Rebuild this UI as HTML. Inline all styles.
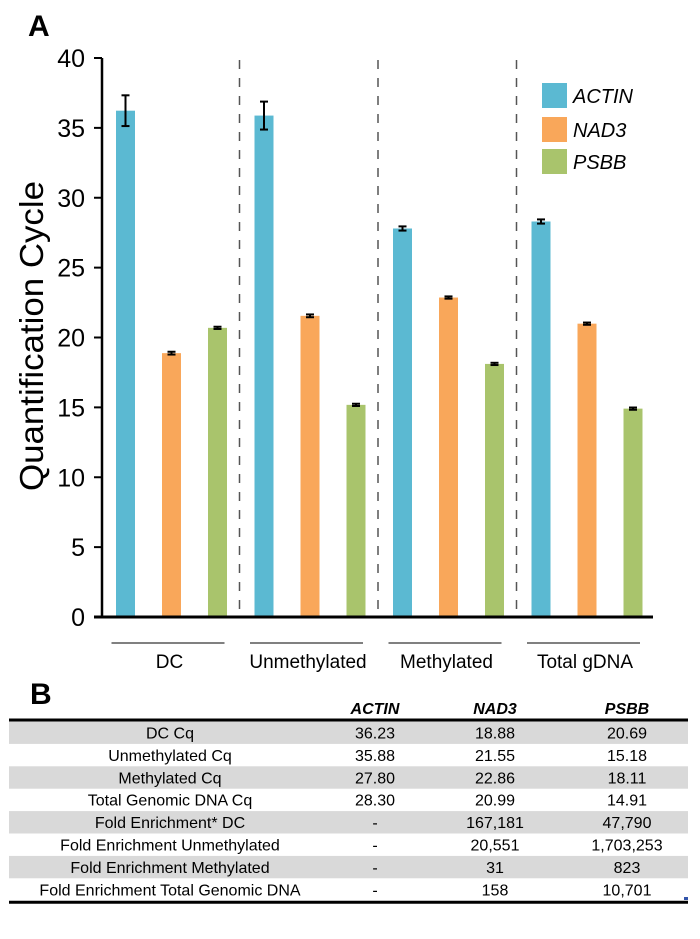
<!DOCTYPE html>
<html><head><meta charset="utf-8"><style>
body{margin:0;background:#fff;width:700px;height:934px;overflow:hidden;font-family:"Liberation Sans",sans-serif}
</style></head><body>
<svg width="700" height="934" xmlns="http://www.w3.org/2000/svg" font-family="Liberation Sans, sans-serif">
<text x="28" y="36" font-size="30" font-weight="bold">A</text>
<g id="chart"></g>
<text x="30" y="704" font-size="30" font-weight="bold">B</text>
<g id="table"></g>
</svg>
<script>
const categories=["DC","Unmethylated","Methylated","Total gDNA"];
const seriesNames=["ACTIN","NAD3","PSBB"];
const actin=[36.23,35.88,27.80,28.30];
const nad3=[18.88,21.55,22.86,20.99];
const psbb=[20.69,15.18,18.11,14.91];
const actinErr=[1.1,1.0,0.15,0.15];
const nad3Err=[0.1,0.1,0.08,0.08];
const psbbErr=[0.08,0.08,0.08,0.08];
const yTicks=[0,5,10,15,20,25,30,35,40];
const colors=["#5bb9d2","#f9a75a","#a9c46c"];
const NS="http://www.w3.org/2000/svg";
const g=document.getElementById('chart');
function mk(tag,attrs,parent){const e=document.createElementNS(NS,tag);for(const k in attrs)e.setAttribute(k,attrs[k]);(parent||g).appendChild(e);return e;}
const y0=617,yTop=58,yMax=40;
function yS(v){return y0-(v/yMax)*(y0-yTop);}
const x0=102,band=138.5;
function xC(i){return x0+band*i+69.5;}
const offs=[-46,0,46],bw=19;
const series=[actin,nad3,psbb],errs=[actinErr,nad3Err,psbbErr];
for(let i=1;i<categories.length;i++){
 const l=mk('line',{x1:x0+band*i-1,x2:x0+band*i-1,y1:60,y2:615,stroke:'#555','stroke-width':1.5,'stroke-dasharray':'9,9'});
 
 
}
series.forEach((s,si)=>{
 s.forEach((v,i)=>{
  const cx=xC(i)+offs[si];
  const r=mk('rect',{x:cx-bw/2,y:yS(v),width:bw,height:y0-yS(v),fill:colors[si]});
  
  
  const e=errs[si][i];
  const eg=mk('g',{stroke:'#000','stroke-width':2});
  
  
  mk('line',{x1:cx,x2:cx,y1:yS(v+e),y2:yS(v-e)},eg);
  mk('line',{x1:cx-4,x2:cx+4,y1:yS(v+e),y2:yS(v+e)},eg);
  mk('line',{x1:cx-4,x2:cx+4,y1:yS(v-e),y2:yS(v-e)},eg);
 });
});
let a=mk('line',{x1:x0,x2:x0,y1:yTop,y2:y0,stroke:'#000','stroke-width':2.5});

a=mk('line',{x1:94,x2:653,y1:y0,y2:y0,stroke:'#000','stroke-width':3});

yTicks.forEach(t=>{
 mk('line',{x1:94,x2:x0,y1:yS(t),y2:yS(t),stroke:'#000','stroke-width':2});
 const tx=mk('text',{x:85,y:yS(t)+9,'font-size':25,'text-anchor':'end'});
 tx.textContent=t;
 
 
});
const yt=mk('text',{x:0,y:0,'font-size':33,'text-anchor':'middle',textLength:310,lengthAdjust:'spacingAndGlyphs',transform:'translate(43,336) rotate(-90)'});
yt.textContent='Quantification Cycle';


categories.forEach((c,i)=>{
 mk('line',{x1:xC(i)-60,x2:xC(i)+53,y1:643,y2:643,stroke:'#000','stroke-width':1});
 const t=mk('text',{x:xC(i)-2,y:668,'font-size':19,'text-anchor':'middle'});
 t.textContent=c;
 
 
});
const legY=[83,117,149];
seriesNames.forEach((n,i)=>{
 const lg=mk('g',{});
 
 
 mk('rect',{x:542,y:legY[i],width:25,height:25,fill:colors[i]},lg);
 const t=mk('text',{x:573,y:legY[i]+20,'font-size':20,'font-style':'italic'},lg);
 t.textContent=n;
});
const tb=document.getElementById('table');
const rowLabels=["DC Cq","Unmethylated Cq","Methylated Cq","Total Genomic DNA Cq","Fold Enrichment* DC","Fold Enrichment Unmethylated","Fold Enrichment Methylated","Fold Enrichment Total Genomic DNA"];
const colActin=["36.23","35.88","27.80","28.30","-","-","-","-"];
const colNad3=["18.88","21.55","22.86","20.99","167,181","20,551","31","158"];
const colPsbb=["20.69","15.18","18.11","14.91","47,790","1,703,253","823","10,701"];
const colX=[170,375,495,627];
seriesNames.forEach((n,i)=>{
 const t=mk('text',{x:colX[i+1],y:714,'font-size':16,'font-weight':'bold','font-style':'italic','text-anchor':'middle'},tb);
 t.textContent=n;
 
 
});
const rh=22.4,rt=721.5;
rowLabels.forEach((lab,r)=>{
 if(r%2===0) mk('rect',{x:9,y:rt+r*rh,width:679,height:rh,fill:'#d9d9d9'},tb);
 const vals=[lab,colActin[r],colNad3[r],colPsbb[r]];
 vals.forEach((v,c)=>{
  const t=mk('text',{x:colX[c],y:rt+r*rh+17,'font-size':16,'text-anchor':'middle'},tb);
  t.textContent=v;
  
  
 });
});
mk('line',{x1:9,x2:688,y1:720,y2:720,stroke:'#000','stroke-width':3},tb);
mk('line',{x1:9,x2:688,y1:rt+8*rh+1.5,y2:rt+8*rh+1.5,stroke:'#000','stroke-width':3},tb);
mk('rect',{x:684,y:897,width:4,height:3,fill:'#3355aa'},tb);
</script>
</body></html>
